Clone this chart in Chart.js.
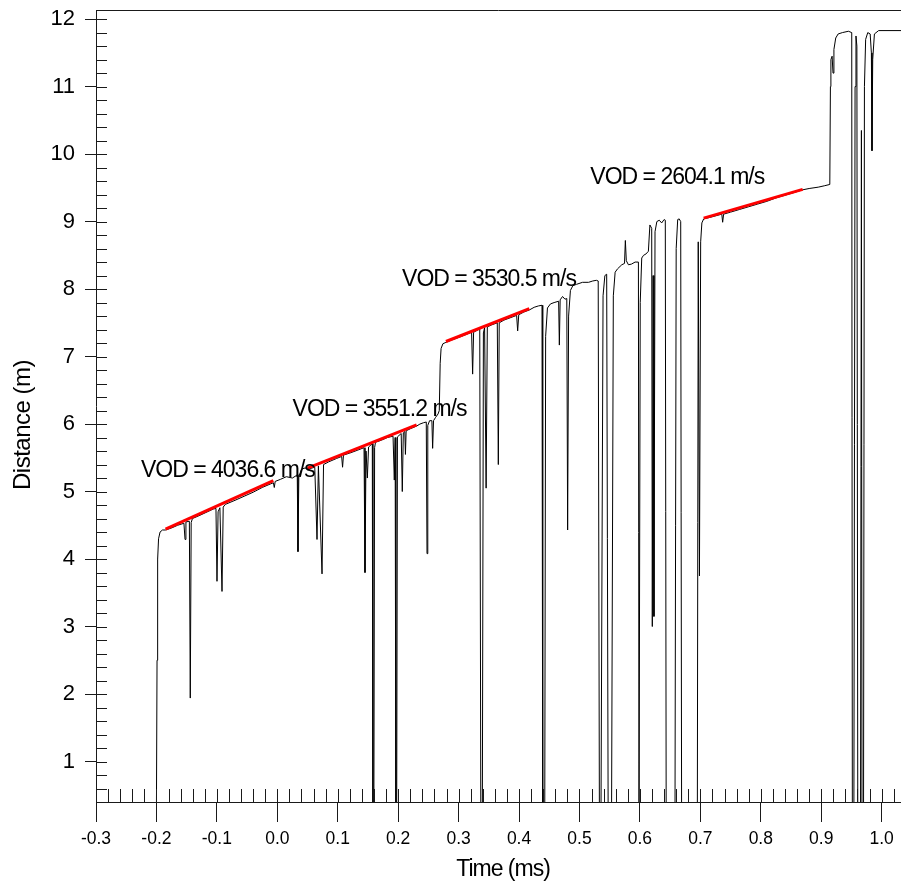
<!DOCTYPE html>
<html>
<head>
<meta charset="utf-8">
<title>VOD trace</title>
<script src="https://cdn.jsdelivr.net/npm/chart.js@4.4.1/dist/chart.umd.min.js"></script>
<style>
  html, body { margin: 0; padding: 0; background: #fff; }
  #wrap { width: 901px; height: 882px; }
</style>
</head>
<body>
<div id="wrap"><canvas id="vodChart" width="901" height="882"></canvas></div>
<script>
// probe trace: time (ms) vs distance (m)
const timeMs = [
  -0.300, -0.2000, -0.1990, -0.1980, -0.1965, -0.1940, -0.1900, -0.1850, -0.1750, -0.1650,
  -0.1545, -0.1527, -0.1512, -0.1455, -0.1440, -0.1425, -0.1405, -0.1300, -0.1180, -0.1060,
  -0.1015, -0.0998, -0.0980, -0.0950, -0.0915, -0.0895, -0.0860, -0.0700, -0.0550, -0.0400,
  -0.0250, -0.0120, -0.0065, -0.0050, -0.0035, 0.0050, 0.0150, 0.0250, 0.0320, 0.0330,
  0.0342, 0.0356, 0.0400, 0.0460, 0.0500, 0.0620, 0.0657, 0.0680, 0.0740, 0.0765,
  0.0850, 0.0980, 0.1065, 0.1080, 0.1095, 0.1200, 0.1320, 0.1435, 0.1451, 0.1468,
  0.1490, 0.1510, 0.1572, 0.1582, 0.1597, 0.1610, 0.1625, 0.1720, 0.1820, 0.1915,
  0.1936, 0.1950, 0.1962, 0.1975, 0.1988, 0.2050, 0.2068, 0.2085, 0.2110, 0.2120,
  0.2132, 0.2200, 0.2305, 0.2360, 0.2420, 0.2465, 0.2477, 0.2490, 0.2520, 0.2558,
  0.2570, 0.2585, 0.2620, 0.2660, 0.2680, 0.2695, 0.2710, 0.2740, 0.2790, 0.2900,
  0.3050, 0.3215, 0.3232, 0.3248, 0.3350, 0.3368, 0.3392, 0.3410, 0.3430, 0.3455,
  0.3475, 0.3550, 0.3640, 0.3657, 0.3672, 0.3750, 0.3900, 0.3960, 0.3977, 0.3995,
  0.4080, 0.4170, 0.4250, 0.4320, 0.4380, 0.4392, 0.4425, 0.4440, 0.4470, 0.4520,
  0.4580, 0.4655, 0.4667, 0.4680, 0.4720, 0.4760, 0.4790, 0.4804, 0.4820, 0.4850,
  0.4890, 0.4950, 0.5050, 0.5150, 0.5220, 0.5280, 0.5310, 0.5330, 0.5355, 0.5390,
  0.5420, 0.5450, 0.5475, 0.5530, 0.5560, 0.5590, 0.5630, 0.5700, 0.5745, 0.5759,
  0.5775, 0.5810, 0.5860, 0.5920, 0.5975, 0.5985, 0.6005, 0.6030, 0.6060, 0.6100,
  0.6140, 0.6165, 0.6195, 0.6205, 0.6218, 0.6232, 0.6250, 0.6280, 0.6320, 0.6360,
  0.6400, 0.6420, 0.6435, 0.6580, 0.6600, 0.6625, 0.6650, 0.6675, 0.6690, 0.6950,
  0.6965, 0.6985, 0.7005, 0.7025, 0.7055, 0.7150, 0.7355, 0.7369, 0.7385, 0.7500,
  0.7650, 0.7800, 0.7950, 0.8100, 0.8250, 0.8400, 0.8550, 0.8690, 0.8800, 0.8950,
  0.9050, 0.9142, 0.9152, 0.9160, 0.9180, 0.9195, 0.9210, 0.9240, 0.9280, 0.9350,
  0.9450, 0.9505, 0.9515, 0.9540, 0.9560, 0.9575, 0.9590, 0.9605, 0.9650, 0.9665,
  0.9675, 0.9700, 0.9715, 0.9735, 0.9770, 0.9810, 0.9830, 0.9840, 0.9852, 0.9880,
  0.9950, 1.0320
];
const distanceM = [
  0.30, 0.30, 2.50, 4.00, 4.30, 4.40, 4.43, 4.43, 4.46, 4.50,
  4.53, 4.29, 4.55, 4.56, 1.94, 4.54, 4.60, 4.64, 4.69, 4.74,
  4.75, 3.67, 4.70, 4.76, 3.52, 4.77, 4.81, 4.87, 4.93, 4.99,
  5.06, 5.11, 5.13, 5.06, 5.15, 5.18, 5.22, 5.20, 5.24, 5.25,
  4.11, 5.22, 5.33, 5.35, 5.33, 5.36, 4.29, 5.38, 3.78, 5.40,
  5.44, 5.49, 5.52, 5.36, 5.54, 5.57, 5.61, 5.65, 3.80, 5.60,
  5.20, 5.66, 5.71, 0.00, 0.00, 5.65, 5.73, 5.76, 5.80, 5.82,
  5.17, 5.80, 0.00, 0.00, 5.81, 5.86, 5.00, 5.87, 5.89, 5.55,
  5.90, 5.93, 5.97, 6.00, 6.02, 6.03, 4.08, 5.98, 6.05, 6.05,
  5.64, 6.05, 6.10, 6.15, 6.20, 6.90, 7.12, 7.19, 7.21, 7.25,
  7.30, 7.36, 6.74, 7.36, 7.41, 0.00, 0.00, 7.35, 7.43, 5.05,
  7.44, 7.47, 7.50, 5.40, 7.50, 7.54, 7.59, 7.61, 7.38, 7.62,
  7.66, 7.69, 7.73, 7.75, 7.76, 0.00, 0.00, 7.30, 7.72, 7.78,
  7.80, 7.82, 7.17, 7.84, 7.89, 7.85, 7.86, 4.43, 7.60, 7.98,
  8.05, 8.07, 8.10, 8.10, 8.12, 8.13, 8.12, 0.00, 0.00, 7.90,
  8.20, 8.22, 0.00, 0.00, 7.90, 8.25, 8.30, 8.36, 8.38, 8.72,
  8.42, 8.36, 8.37, 8.40, 8.40, 0.00, 7.80, 8.46, 8.50, 8.52,
  8.56, 8.95, 8.90, 3.00, 8.20, 3.15, 8.85, 9.00, 9.02, 8.98,
  9.03, 9.02, 0.00, 0.00, 8.60, 9.03, 9.04, 9.00, 0.00, 0.00,
  8.70, 3.75, 8.70, 8.98, 9.04, 9.06, 9.11, 8.99, 9.11, 9.14,
  9.18, 9.22, 9.26, 9.30, 9.35, 9.39, 9.43, 9.47, 9.49, 9.51,
  9.53, 9.55, 11.00, 11.40, 11.45, 11.20, 11.55, 11.72, 11.78, 11.80,
  11.82, 11.80, 0.00, 0.00, 11.00, 11.75, 11.60, 0.00, 0.00, 10.35,
  0.00, 0.00, 11.00, 11.70, 11.80, 11.78, 11.50, 10.05, 11.40, 11.78,
  11.83, 11.83
];

// fitted VOD segments (start/end of each red line)
const vodStartT = [-0.185, 0.050, 0.279, 0.7055];
const vodEndT = [-0.0066, 0.2305, 0.417, 0.8693];
const vodStartD = [4.443, 5.347, 7.223, 9.051];
const vodEndD = [5.163, 5.988, 7.710, 9.478];
const vodText = ['VOD = 4036.6 m/s', 'VOD = 3551.2 m/s', 'VOD = 3530.5 m/s', 'VOD = 2604.1 m/s'];
const vodLabelT = [-0.2256, 0.0253, 0.2064, 0.518];
const vodLabelD = [5.218, 6.112, 8.048, 9.560];

const xMajorTicks = [-0.3, -0.2, -0.1, 0.0, 0.1, 0.2, 0.3, 0.4, 0.5, 0.6, 0.7, 0.8, 0.9, 1.0];
const xTickLabels = ['-0.3', '-0.2', '-0.1', '0.0', '0.1', '0.2', '0.3', '0.4', '0.5', '0.6', '0.7', '0.8', '0.9', '1.0'];
const yMajorTicks = [1, 2, 3, 4, 5, 6, 7, 8, 9, 10, 11, 12];
const yTickLabels = ['1', '2', '3', '4', '5', '6', '7', '8', '9', '10', '11', '12'];
const xTitle = 'Time (ms)';
const yTitle = 'Distance (m)';

const AXIS = '#1a1a1a';
const FONT = '"Liberation Sans", Arial, Helvetica, sans-serif';
const X_MINOR = 0.02;
const Y_MINOR = 0.2;

function labelFor(value, majors, labels) {
  const i = majors.findIndex(v => Math.abs(v - value) < 1e-6);
  return i >= 0 ? labels[i] : '';
}

const trace = timeMs.map((t, i) => ({ x: t, y: distanceM[i] }));
const vodSets = vodStartT.map((t0, i) => ({
  data: [{ x: t0, y: vodStartD[i] }, { x: vodEndT[i], y: vodEndD[i] }],
  borderColor: '#ff0000',
  borderWidth: 3,
  pointRadius: 0,
  showLine: true,
  order: 0
}));

// inward ticks, top frame line, VOD labels and axis titles
const decorations = {
  id: 'decorations',
  afterDatasetsDraw(chart) {
    const { ctx, chartArea: a, scales: { x, y } } = chart;
    ctx.save();
    ctx.strokeStyle = AXIS;
    ctx.lineWidth = 1;
    ctx.beginPath();
    ctx.moveTo(a.left, a.top + 0.5);
    ctx.lineTo(a.right, a.top + 0.5);
    x.ticks.forEach(t => {
      const px = Math.round(x.getPixelForValue(t.value)) + 0.5;
      ctx.moveTo(px, a.bottom);
      ctx.lineTo(px, a.bottom - 13);
    });
    y.ticks.forEach(t => {
      const py = Math.round(y.getPixelForValue(t.value)) + 0.5;
      ctx.moveTo(a.left, py);
      ctx.lineTo(a.left + 11, py);
    });
    ctx.stroke();

    ctx.fillStyle = '#000';
    ctx.font = '23px ' + FONT;
    ctx.letterSpacing = '-1px';
    ctx.textAlign = 'left';
    ctx.textBaseline = 'alphabetic';
    vodText.forEach((s, i) => {
      ctx.fillText(s, x.getPixelForValue(vodLabelT[i]), y.getPixelForValue(vodLabelD[i]));
    });

    ctx.textAlign = 'center';
    ctx.fillText(xTitle, 503, 876);
    ctx.font = '24px ' + FONT;
    ctx.letterSpacing = '-0.5px';
    ctx.translate(30, 425);
    ctx.rotate(-Math.PI / 2);
    ctx.fillText(yTitle, 0, 0);
    ctx.restore();
  }
};

new Chart(document.getElementById('vodChart'), {
  type: 'scatter',
  data: {
    datasets: [
      ...vodSets,
      {
        data: trace,
        borderColor: '#000',
        borderWidth: 1,
        pointRadius: 0,
        showLine: true,
        tension: 0,
        order: 1
      }
    ]
  },
  options: {
    responsive: false,
    devicePixelRatio: 1,
    animation: false,
    layout: { padding: { top: 10, right: 0, bottom: 0, left: 0 } },
    plugins: { legend: { display: false }, tooltip: { enabled: false } },
    scales: {
      x: {
        type: 'linear',
        min: -0.3,
        max: 1.032,
        afterFit: (s) => { s.height = 80; s.paddingLeft = 0; s.paddingRight = 0; },
        afterBuildTicks: (s) => {
          const out = [];
          for (let k = -15; k <= 51; k++) out.push({ value: +(k * X_MINOR).toFixed(4) });
          s.ticks = out;
        },
        border: { display: true, color: AXIS, width: 1 },
        grid: {
          display: true,
          drawOnChartArea: false,
          drawTicks: true,
          tickLength: 20,
          tickWidth: 1,
          tickColor: (c) => labelFor(c.tick.value, xMajorTicks, xTickLabels) ? AXIS : 'rgba(0,0,0,0)'
        },
        ticks: {
          autoSkip: false,
          maxRotation: 0,
          minRotation: 0,
          padding: 7,
          color: '#000',
          font: { family: FONT, size: 17.5 },
          callback: (v) => labelFor(v, xMajorTicks, xTickLabels)
        }
      },
      y: {
        type: 'linear',
        min: 0.4,
        max: 12.135,
        afterFit: (s) => { s.width = 96; s.paddingTop = 0; s.paddingBottom = 0; },
        afterBuildTicks: (s) => {
          const out = [];
          for (let k = 3; k <= 60; k++) out.push({ value: +(k * Y_MINOR).toFixed(4) });
          s.ticks = out;
        },
        border: { display: true, color: AXIS, width: 1 },
        grid: {
          display: true,
          drawOnChartArea: false,
          drawTicks: true,
          tickLength: 11,
          tickWidth: 1,
          tickColor: (c) => labelFor(c.tick.value, yMajorTicks, yTickLabels) ? AXIS : 'rgba(0,0,0,0)'
        },
        ticks: {
          autoSkip: false,
          padding: 10,
          color: '#000',
          font: { family: FONT, size: 22 },
          callback: (v) => labelFor(v, yMajorTicks, yTickLabels)
        }
      }
    }
  },
  plugins: [decorations]
});
</script>
</body>
</html>
